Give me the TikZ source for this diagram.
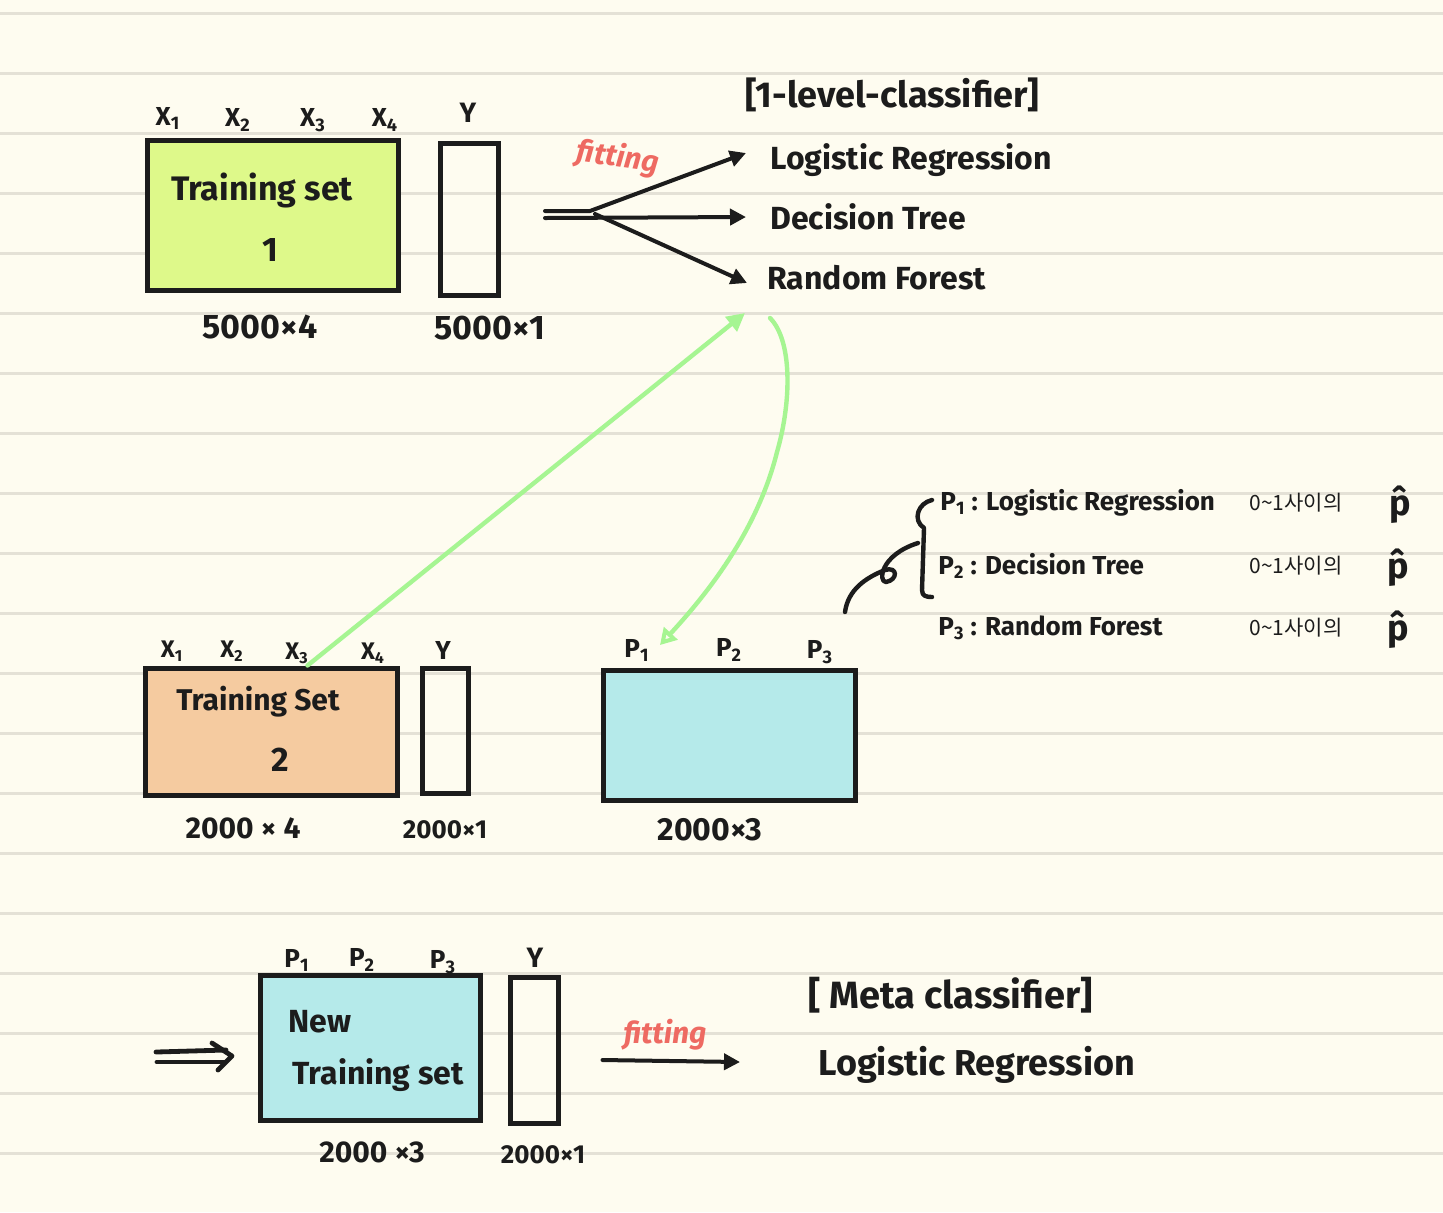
\documentclass[tikz,border=0pt]{standalone}
\usepackage{fontspec}
\setmainfont{Fira Sans}
\newfontfamily\kr{Noto Sans CJK KR}
\usetikzlibrary{arrows.meta,calc}
\definecolor{paper}{HTML}{FEFCF0}
\definecolor{rule}{HTML}{E4E1D6}
\definecolor{ink}{HTML}{1C1C1C}
\definecolor{limefill}{HTML}{DEF98A}
\definecolor{peachfill}{HTML}{F5CBA0}
\definecolor{aquafill}{HTML}{B5EAEA}
\definecolor{redink}{HTML}{EE6A62}
\definecolor{greenink}{HTML}{A6F592}
\tikzset{
  txt/.style={text=ink, inner sep=0pt, font=\bfseries\fontsize{#1}{#1}\selectfont},
  txt/.default=16,
  krtxt/.style={text=ink, inner sep=0pt, font=\kr\fontsize{10.5}{10.5}\selectfont},
  mbox/.style={draw=ink, line width=2.5pt, inner sep=0pt},
  conn/.style={draw=ink, line width=2pt, line cap=round, line join=round},
  tip/.style={-{Triangle[length=8pt,width=8pt]}},
  greenconn/.style={draw=greenink, line width=2.2pt, line cap=round},
  redtxt/.style={text=redink, inner sep=0pt, font=\itshape\bfseries\fontsize{15}{15}\selectfont},
}
\begin{document}
\begin{tikzpicture}[x=0.5pt,y=-0.5pt]
\fill[paper] (0,0) rectangle (1443,1212);
\useasboundingbox (0,0) rectangle (1443,1212);
\foreach \k in {0,...,19} \draw[rule, line width=1.5pt] (0,13+60*\k) -- (1443,13+60*\k);

% ---------- top row ----------
\node[mbox, fill=limefill, minimum width=125.5pt, minimum height=75pt] (ts1) at (272.5,215) {};
\node[txt=17] (ts1a) at (262,190) {Training set};
\node[txt=17] (ts1b) at (270,250) {1};
\node[txt=13] (x11) at (168,118) {X\textsubscript{1}};
\node[txt=13] (x12) at (238,120) {X\textsubscript{2}};
\node[txt=13] (x13) at (313,120) {X\textsubscript{3}};
\node[txt=13] (x14) at (385,120) {X\textsubscript{4}};
\node[mbox, minimum width=29pt, minimum height=76pt] (y1) at (469,219) {};
\node[txt=14] (y1l) at (468,113) {Y};
\node[txt=17] (d1) at (260,327) {5000×4};
\node[txt=17] (d2) at (490,328) {5000×1};

\node[txt=18, anchor=west] (lvl) at (745,95) {[1-level-classifier]};
\node[txt, anchor=west] (LR) at (770,160) {Logistic Regression};
\node[txt, anchor=west] (DT) at (770,217) {Decision Tree};
\node[txt, anchor=west] (RF) at (767,278) {Random Forest};

\coordinate (fa) at (545,211);
\coordinate (fb) at (545,218);
\coordinate (fm) at (595,214);
\draw[conn, tip] (fa) -- (590,211) -- ([xshift=-12pt,yshift=3.5pt]LR.west);
\draw[conn, tip] (fb) -- ([xshift=-12pt]DT.west);
\draw[conn, tip] (fm) -- ([xshift=-10pt,yshift=-2.5pt]RF.west);
\node[redtxt, rotate=-8] (fit1) at (618,158) {fitting};

% ---------- middle row ----------
\node[mbox, fill=peachfill, minimum width=126pt, minimum height=63.5pt] (ts2) at (271,731.5) {};
\node[txt=15] (ts2a) at (258,702) {Training Set};
\node[txt=17] (ts2b) at (280,760) {2};
\node[txt=12] (x21) at (172,651) {X\textsubscript{1}};
\node[txt=12] (x22) at (232,651) {X\textsubscript{2}};
\node[txt=12] (x23) at (297,653) {X\textsubscript{3}};
\node[txt=12] (x24) at (373,653) {X\textsubscript{4}};
\node[mbox, minimum width=23pt, minimum height=62.5pt] (y2) at (445,730.5) {};
\node[txt=13] (y2l) at (443,650) {Y};
\node[txt=15] (d3) at (243,828) {2000 × 4};
\node[txt=13] (d4) at (445,830) {2000×1};

\node[mbox, fill=aquafill, minimum width=126pt, minimum height=65pt] (pb) at (729,735) {};
\node[txt=13] (p1) at (637,650) {P\textsubscript{1}};
\node[txt=13] (p2) at (729,650) {P\textsubscript{2}};
\node[txt=13] (p3) at (820,652) {P\textsubscript{3}};
\node[txt=16] (d5) at (710,830) {2000×3};

% green connectors
\coordinate (gin) at (745,313);
\coordinate (gout) at (770,318);
\draw[greenconn, -{Triangle[length=9pt,width=9pt]}] ([xshift=82.5pt]ts2.north west) -- (gin);
\draw[greenconn, -{Triangle[open,length=8pt,width=9pt]}] (gout) .. controls (792,340) and (792,400) .. (777,452) .. controls (760,520) and (720,580) .. (660,645);

% right-hand notes
\node[txt=13, anchor=west] (n1) at (940,503) {P\textsubscript{1} : Logistic Regression};
\node[txt=13, anchor=west] (n2) at (938,566) {P\textsubscript{2} : Decision Tree};
\node[txt=13, anchor=west] (n3) at (938,628) {P\textsubscript{3} : Random Forest};
\node[krtxt] (k1) at (1296,503) {0\textasciitilde 1사이의};
\node[krtxt] (k2) at (1296,566) {0\textasciitilde 1사이의};
\node[krtxt] (k3) at (1296,628) {0\textasciitilde 1사이의};
\node[txt=18] (h1) at (1400,505) {\^{p}};
\node[txt=18] (h2) at (1398,568) {\^{p}};
\node[txt=18] (h3) at (1398,630) {\^{p}};
\coordinate (br1) at (932,500);
\coordinate (br2) at (932,597);
\draw[conn, line width=2.2pt] (br1) .. controls (918,503) and (912,520) .. (924,528) -- (922,590) .. controls (922,596) and (926,597) .. (br2);
\coordinate (cv1) at (845,612);
\coordinate (cv2) at (918,543);
\draw[conn, line width=2.2pt] (cv1) .. controls (848,590) and (865,578) .. (885,570) .. controls (898,566) and (898,580) .. (886,582) .. controls (878,582) and (880,555) .. (cv2);

% ---------- bottom row ----------
\coordinate (da) at (156,1052);
\coordinate (db) at (157,1062);
\node[mbox, fill=aquafill, minimum width=110pt, minimum height=72.5pt] (nts) at (370,1047.5) {};
\draw[conn, line width=2.4pt] (da) -- (226,1050);
\draw[conn, line width=2.4pt] (db) -- (225,1062);
\draw[conn, line width=2.4pt] (212,1043) -- (232,1056) -- (218,1070);
\node[txt, anchor=west] (ntsa) at (288,1022) {New};
\node[txt, anchor=west] (ntsb) at (292,1075) {Training set};
\node[txt=13] (q1) at (297,960) {P\textsubscript{1}};
\node[txt=13] (q2) at (362,960) {P\textsubscript{2}};
\node[txt=13] (q3) at (443,962) {P\textsubscript{3}};
\node[mbox, minimum width=24pt, minimum height=73pt] (y3) at (534,1050) {};
\node[txt=14] (y3l) at (535,958) {Y};
\node[txt=15] (d6) at (372,1152) {2000 ×3};
\node[txt=13] (d7) at (543,1155) {2000×1};

\node[txt=19, anchor=west] (meta) at (808,995) {[ Meta classifier]};
\node[txt=18, anchor=west] (MLR) at (818,1065) {Logistic Regression};
\draw[conn, tip] ([xshift=21pt,yshift=-5pt]y3.east) -- ([xshift=-39pt,yshift=1.5pt]MLR.west);
\node[redtxt] (fit2) at (665,1035) {fitting};
\end{tikzpicture}
\end{document}
